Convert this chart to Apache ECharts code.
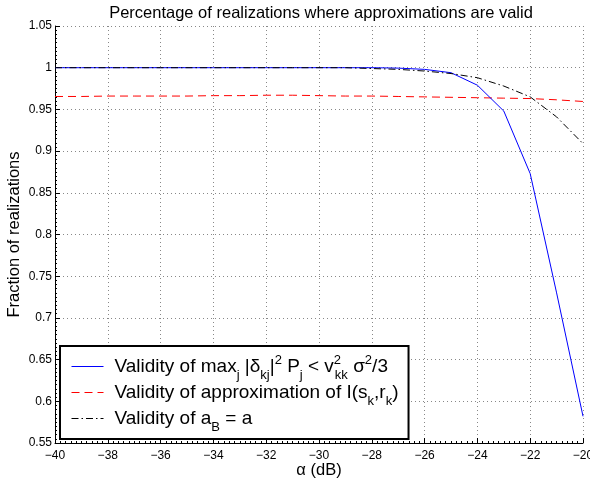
<!DOCTYPE html>
<html>
<head>
<meta charset="utf-8">
<script src="https://cdn.jsdelivr.net/npm/echarts@6/dist/echarts.min.js"></script>
<style>
html,body{margin:0;padding:0;background:#fff;}
#chart{width:590px;height:483px;}
</style>
</head>
<body>
<div id="chart"></div>
<script>
var alphaDb = [-40,-39,-38,-37,-36,-35,-34,-33,-32,-31,-30,-29,-28,-27,-26,-25,-24,-23,-22,-21,-20];
var validMax = [1,1,1,1,1,1,1,1,1,1,1,1,1,0.9995,0.998,0.994,0.979,0.948,0.873,0.73,0.582];
var validApprox = [0.9655,0.9655,0.966,0.966,0.966,0.966,0.9665,0.9665,0.967,0.967,0.9665,0.966,0.966,0.9655,0.965,0.9645,0.964,0.9635,0.963,0.9615,0.9595];
var validAB = [1,1,1,1,1,1,1,1,1,1,1,1,0.999,0.998,0.996,0.993,0.988,0.978,0.965,0.941,0.909];

var nameMax = 'Validity of max_j |δ_kj|^2 P_j < v_kk^2 σ^2/3';
var nameApprox = 'Validity of approximation of I(s_k,r_k)';
var nameAB = 'Validity of a_B = a';

function pairs(ys){ return alphaDb.map(function(x,i){ return [x, ys[i]]; }); }

var FONT = '"Liberation Sans", Arial, Helvetica, sans-serif';
var chart = echarts.init(document.getElementById('chart'), null, {renderer:'canvas'});

var legendRich = {
  t: {fontSize:19, lineHeight:22, verticalAlign:'middle', fontFamily:FONT, color:'#000'},
  sub: {fontSize:13, lineHeight:4, height:4, verticalAlign:'bottom', fontFamily:FONT, color:'#000'},
  sup: {fontSize:13, lineHeight:10, height:10, verticalAlign:'top', fontFamily:FONT, color:'#000'},
  supz: {fontSize:13, lineHeight:10, height:10, verticalAlign:'top', width:1, fontFamily:FONT, color:'#000'}
};

var option = {
  backgroundColor:'#fff',
  animation:false,
  title:{
    text:'Percentage of realizations where approximations are valid',
    left:316, top:0, textAlign:'center',
    textStyle:{fontSize:16.5, fontWeight:'normal', color:'#000', fontFamily:FONT}
  },
  grid:{left:55, right:7, top:26, bottom:40, outerBoundsMode:'none', containLabel:false},
  xAxis:{
    type:'value', min:-40, max:-20, interval:2,
    name:'α (dB)', nameLocation:'middle', nameGap:19, nameMoveOverlap:false,
    nameTextStyle:{fontSize:16.5, color:'#000', fontFamily:FONT},
    axisLine:{show:true, onZero:false, lineStyle:{color:'#000', width:1}},
    axisTick:{show:true, inside:true, length:5, lineStyle:{color:'#000'}},
    minorTick:{show:true, splitNumber:10, length:2, lineStyle:{color:'#000'}},
    axisLabel:{fontSize:12, color:'#000', fontFamily:FONT, margin:7,
      formatter:function(v){ return String(v).replace('-', '\u2212'); }},
    splitLine:{show:true, lineStyle:{color:'#888', type:[1,3], width:1}}
  },
  yAxis:{
    type:'value', min:0.55, max:1.05, interval:0.05,
    name:'Fraction of realizations', nameLocation:'middle', nameGap:32, nameMoveOverlap:false,
    nameTextStyle:{fontSize:16.5, color:'#000', fontFamily:FONT},
    axisLine:{show:true, onZero:false, lineStyle:{color:'#000', width:1}},
    axisTick:{show:true, inside:true, length:5, lineStyle:{color:'#000'}},
    minorTick:{show:true, splitNumber:10, length:2, lineStyle:{color:'#000'}},
    axisLabel:{fontSize:12, color:'#000', fontFamily:FONT, margin:3,
      formatter:function(v){ return String(+v.toFixed(2)); }},
    splitLine:{show:true, lineStyle:{color:'#888', type:[1,3], width:1}}
  },
  legend:{
    orient:'vertical', left:60, top:346,
    padding:[8, 10, 5, 11],
    itemWidth:32, itemHeight:2, itemGap:1,
    borderColor:'#000', borderWidth:2, backgroundColor:'#fff',
    itemStyle:{opacity:0},
    lineStyle:{width:1},
    data:[nameMax, nameApprox, nameAB],
    textStyle:{fontSize:19, color:'#000', fontFamily:FONT, padding:[0,0,0,6], rich:legendRich},
    formatter:function(n){
      if (n === nameMax) return '{t|Validity of max}{sub|j}{t| |δ}{sub|kj}{t||}{sup|2}{t| P}{sub|j}{t| < v}{supz|2}{sub|kk}{t| σ}{sup|2}{t|/3}';
      if (n === nameApprox) return '{t|Validity of approximation of I(s}{sub|k}{t|,r}{sub|k}{t|)}';
      return '{t|Validity of a}{sub|B}{t| = a}';
    }
  },
  series:[
    {name:nameMax, type:'line', data:pairs(validMax), symbol:'none', z:3,
     lineStyle:{color:'#0000ff', width:1, type:'solid'}, itemStyle:{color:'#0000ff'}},
    {name:nameApprox, type:'line', data:pairs(validApprox), symbol:'none', z:2,
     lineStyle:{color:'#ff0000', width:1, type:[8,5]}, itemStyle:{color:'#ff0000'}},
    {name:nameAB, type:'line', data:pairs(validAB), symbol:'none', z:4,
     lineStyle:{color:'#000', width:1, type:[7,3,1.5,3]}, itemStyle:{color:'#000'}}
  ]
};
chart.setOption(option);
</script>
</body>
</html>
